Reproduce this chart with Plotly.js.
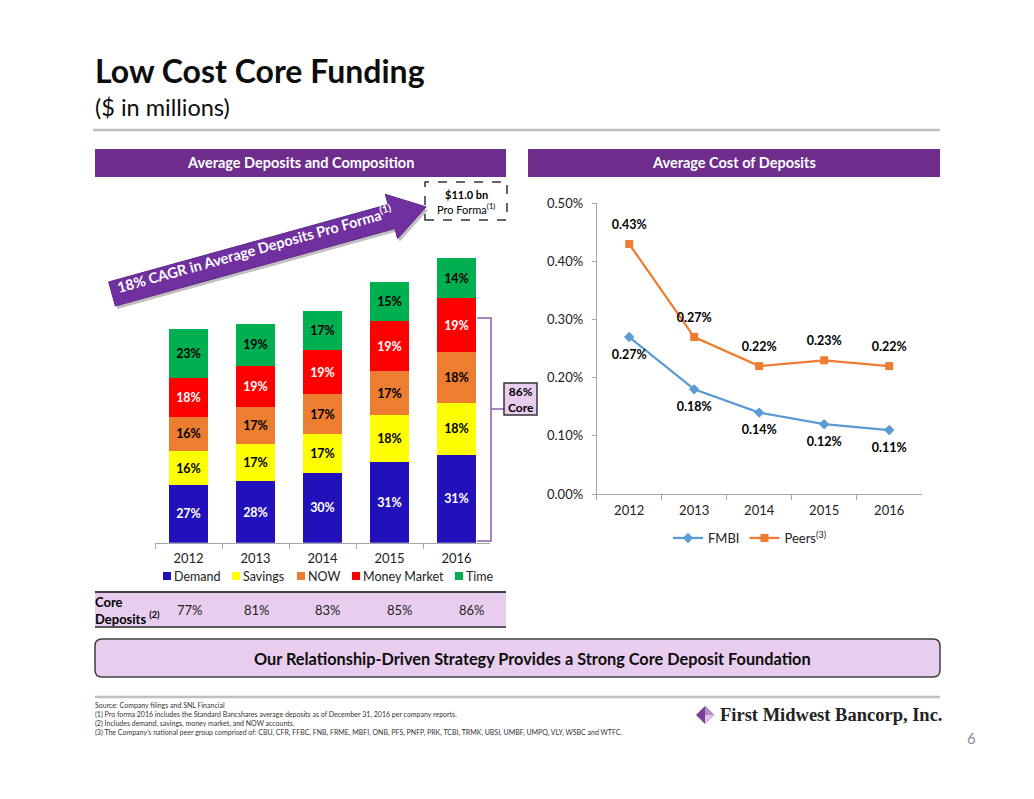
<!DOCTYPE html>
<html>
<head>
<meta charset="utf-8">
<script src="https://cdn.plot.ly/plotly-3.0.1.min.js"></script>
<style>html,body{margin:0;padding:0;background:#fff;}#chart{width:1034px;height:799px;}</style>
</head>
<body>
<div id="chart"></div>
<script>
// ---------------- data ----------------
const years = ['2012', '2013', '2014', '2015', '2016'];
const totals = [6637, 6800, 7208, 8096, 8846];
const totalLabels = ['$6,637', '$6,800', '$7,208', '$8,096', '$8,846'];
const demandPct = [27, 28, 30, 31, 31];
const savingsPct = [16, 17, 17, 18, 18];
const nowPct = [16, 17, 17, 17, 18];
const moneyMarketPct = [18, 19, 19, 19, 19];
const timePct = [23, 19, 17, 15, 14];
const coreDeposits = ['77%', '81%', '83%', '85%', '86%'];
const fmbiCost = [0.27, 0.18, 0.14, 0.12, 0.11];
const peersCost = [0.43, 0.27, 0.22, 0.23, 0.22];
const costTicks = [0, 0.1, 0.2, 0.3, 0.4, 0.5];

// ---------------- helpers (pixel -> paper) ----------------
const W = 1034, H = 799;
const X = p => p / W;
const Y = p => 1 - p / H;
const FONT = 'Lato, "Open Sans", sans-serif';
function rect(x0, y0, x1, y1, o) {
  return Object.assign({type: 'rect', xref: 'paper', yref: 'paper', x0: X(x0), x1: X(x1), y0: Y(y1), y1: Y(y0), layer: 'below'}, o);
}
function poly(pts, o) {
  const d = 'M' + pts.map(p => X(p[0]).toFixed(5) + ',' + Y(p[1]).toFixed(5)).join(' L') + ' Z';
  return Object.assign({type: 'path', xref: 'paper', yref: 'paper', path: d, layer: 'above'}, o);
}
function line(pts, o) {
  const d = 'M' + pts.map(p => X(p[0]).toFixed(5) + ',' + Y(p[1]).toFixed(5)).join(' L');
  return Object.assign({type: 'path', xref: 'paper', yref: 'paper', path: d, layer: 'above'}, o);
}
function ann(x, y, text, o, f) {
  return Object.assign({xref: 'paper', yref: 'paper', x: X(x), y: Y(y), text: text, showarrow: false,
    xanchor: 'center', yanchor: 'middle', font: Object.assign({family: FONT, size: 12, color: '#000'}, f || {})}, o || {});
}
function roundRect(x0, y0, x1, y1, r) {
  const P = (x, y) => X(x).toFixed(5) + ',' + Y(y).toFixed(5);
  return 'M' + P(x0 + r, y0) + ' L' + P(x1 - r, y0) + ' Q' + P(x1, y0) + ' ' + P(x1, y0 + r) +
    ' L' + P(x1, y1 - r) + ' Q' + P(x1, y1) + ' ' + P(x1 - r, y1) +
    ' L' + P(x0 + r, y1) + ' Q' + P(x0, y1) + ' ' + P(x0, y1 - r) +
    ' L' + P(x0, y0 + r) + ' Q' + P(x0, y0) + ' ' + P(x0 + r, y0) + ' Z';
}

// ---------------- bar traces ----------------
const series = [
  {name: 'Demand', pct: demandPct, color: '#2211BB', text: '#FFFFFF'},
  {name: 'Savings', pct: savingsPct, color: '#FFFF00', text: '#000000'},
  {name: 'NOW', pct: nowPct, color: '#ED7D31', text: '#000000'},
  {name: 'Money Market', pct: moneyMarketPct, color: '#FF0000', text: '#FFFFFF'},
  {name: 'Time', pct: timePct, color: '#00B050', text: '#000000'}
];
const traces = series.map(s => ({
  type: 'bar', name: s.name, x: years,
  y: s.pct.map((p, i) => totals[i] * p / 100),
  text: s.pct.map(p => '<b>' + p + '%</b>'),
  textposition: 'inside', insidetextanchor: 'middle', textangle: 0, constraintext: 'none',
  textfont: {family: FONT, size: 12.5, color: s.text},
  marker: {color: s.color, line: {width: 0}},
  xaxis: 'x', yaxis: 'y', showlegend: false, hoverinfo: 'skip'
}));

// ---------------- line traces ----------------
traces.push({
  type: 'scatter', mode: 'lines+markers', name: 'FMBI', x: years, y: fmbiCost,
  line: {color: '#5B9BD5', width: 2.25}, marker: {symbol: 'diamond', size: 8, color: '#5B9BD5'},
  xaxis: 'x2', yaxis: 'y2', legend: 'legend2', cliponaxis: false, hoverinfo: 'skip'
});
traces.push({
  type: 'scatter', mode: 'lines+markers', name: 'Peers<sup>(3)</sup>', x: years, y: peersCost,
  line: {color: '#ED7D31', width: 2.25}, marker: {symbol: 'square', size: 8, color: '#ED7D31'},
  xaxis: 'x2', yaxis: 'y2', legend: 'legend2', cliponaxis: false, hoverinfo: 'skip'
});
// data labels (invisible spacer markers give the label offset)
traces.push({
  type: 'scatter', mode: 'markers+text', x: years, y: fmbiCost, showlegend: false,
  text: fmbiCost.map(v => '<b>' + v.toFixed(2) + '%</b>'), textposition: 'bottom center',
  textfont: {family: FONT, size: 12.5, color: '#000'},
  marker: {size: 18, color: 'rgba(0,0,0,0)'}, xaxis: 'x2', yaxis: 'y2', cliponaxis: false, hoverinfo: 'skip'
});
traces.push({
  type: 'scatter', mode: 'markers+text', x: years, y: peersCost, showlegend: false,
  text: peersCost.map(v => '<b>' + v.toFixed(2) + '%</b>'), textposition: 'top center',
  textfont: {family: FONT, size: 12.5, color: '#000'},
  marker: {size: 18, color: 'rgba(0,0,0,0)'}, xaxis: 'x2', yaxis: 'y2', cliponaxis: false, hoverinfo: 'skip'
});

// ---------------- shapes ----------------
const PURPLE = '#6E2C8C';
const shapes = [];
shapes.push(line([[93, 130], [940, 130]], {line: {color: '#BFBFBF', width: 2.5}}));
shapes.push(rect(95, 149, 506, 177, {fillcolor: PURPLE, line: {width: 0}}));
shapes.push(rect(528, 149, 940, 177, {fillcolor: PURPLE, line: {width: 0}}));
shapes.push(rect(95, 592, 506, 627, {fillcolor: '#E8CDEE', line: {width: 0}}));
shapes.push(line([[95, 592], [506, 592]], {line: {color: '#3F3F3F', width: 2}}));
shapes.push(line([[95, 627], [506, 627]], {line: {color: '#595959', width: 2}}));
shapes.push({type: 'path', xref: 'paper', yref: 'paper', path: roundRect(95, 639, 940, 677, 7),
  fillcolor: '#E8CDEE', line: {color: '#404040', width: 1.5}, layer: 'below'});
shapes.push(line([[95, 697], [940, 697]], {line: {color: '#BFBFBF', width: 2.5}}));
shapes.push(rect(425, 182, 507, 220, {fillcolor: 'rgba(0,0,0,0)', line: {color: '#333', width: 1.5, dash: 'dash'}, layer: 'above'}));
shapes.push(line([[477, 318], [491, 318], [491, 541], [477, 541]], {line: {color: '#8E5BA8', width: 1.5}}));
shapes.push(line([[491, 409], [504, 409]], {line: {color: '#8E5BA8', width: 1.5}}));
shapes.push(rect(504, 383, 537, 415, {fillcolor: '#E8CDEE', line: {color: '#333', width: 1.5}, layer: 'above'}));
// CAGR arrow
const ARROW_ANG = 15.5;
(function () {
  const ang = ARROW_ANG * Math.PI / 180;
  const u = [Math.cos(ang), -Math.sin(ang)], n = [Math.sin(ang), Math.cos(ang)];
  const c0 = [112, 294], L = 326, hl = 36, sw = 12.5, hw = 23;
  const at = (d, k) => [c0[0] + d * u[0] + k * n[0], c0[1] + d * u[1] + k * n[1]];
  const pts = [at(0, -sw), at(L - hl, -sw), at(L - hl, -hw), at(L, 0), at(L - hl, hw), at(L - hl, sw), at(0, sw)];
  shapes.push(poly(pts.map(p => [p[0] + 2, p[1] + 3]), {fillcolor: 'rgba(0,0,0,0.25)', line: {width: 0}}));
  shapes.push(poly(pts, {fillcolor: '#7030A0', line: {color: '#5E2787', width: 1}}));
})();
// logo diamond
shapes.push(poly([[705, 706], [714, 715], [705, 724], [696, 715]], {fillcolor: '#7B3F98', line: {width: 0}}));
shapes.push(poly([[705, 706], [714, 715], [705, 715]], {fillcolor: '#B58AC9', line: {width: 0}}));
shapes.push(poly([[705, 715], [714, 715], [705, 724]], {fillcolor: '#D9C2E4', line: {width: 0}}));

// manual bar legend swatches
const legX = [163, 232, 297, 352, 455];
series.forEach((s, i) => {
  shapes.push(rect(legX[i], 572, legX[i] + 8, 580, {fillcolor: s.color, line: {width: 0}, layer: 'above'}));
});

// ---------------- annotations ----------------
const annotations = [];
annotations.push(ann(93, 70, '<b>Low Cost Core Funding</b>', {xanchor: 'left'}, {size: 32, color: '#0D0D0D'}));
annotations.push(ann(93, 107, '($ in millions)', {xanchor: 'left'}, {size: 23.5, color: '#0D0D0D'}));
annotations.push(ann(300.5, 163, '<b>Average Deposits and Composition</b>', {}, {size: 14.5, color: '#FFFFFF'}));
annotations.push(ann(734, 163, '<b>Average Cost of Deposits</b>', {}, {size: 14.5, color: '#FFFFFF'}));
annotations.push(ann(466, 194, '<b>$11.0 bn</b>', {}, {size: 11}));
annotations.push(ann(466, 209, 'Pro Forma<sup>(1)</sup>', {}, {size: 11}));
annotations.push(ann(520.5, 399, '<b>86%<br>Core</b>', {}, {size: 12}));
annotations.push(ann(254.5, 248.5, '<b>18% CAGR in Average Deposits Pro Forma<sup>(1)</sup></b>', {textangle: -ARROW_ANG}, {size: 14.5, color: '#FFFFFF'}));
// totals above bars
years.forEach((yr, i) => {
  annotations.push({xref: 'x', yref: 'y', x: yr, y: totals[i], yshift: 17, text: '<b>' + totalLabels[i] + '</b>',
    showarrow: false, xanchor: 'center', yanchor: 'middle', font: {family: FONT, size: 12.5, color: '#000'}});
});
// bar legend text
series.forEach((s, i) => {
  annotations.push(ann(legX[i] + 9, 576, s.name, {xanchor: 'left'}, {size: 12.5, color: '#222'}));
});
// core deposits row
annotations.push(ann(93, 610, '<b>Core<br>Deposits <sup>(2)</sup></b>', {xanchor: 'left', align: 'left'}, {size: 13}));
const coreX = [190, 257, 328, 400, 472];
coreDeposits.forEach((c, i) => annotations.push(ann(coreX[i], 610, c, {}, {size: 13, color: '#222'})));
// banner
annotations.push(ann(532, 658, '<b>Our Relationship-Driven Strategy Provides a Strong Core Deposit Foundation</b>', {}, {size: 16.3, color: '#0D0D0D'}));
// footnotes
const notes = [
  'Source: Company filings and SNL Financial',
  '(1) Pro forma 2016 includes the Standard Bancshares average deposits as of December 31, 2016 per company reports.',
  '(2) Includes demand, savings, money market, and NOW accounts.',
  '(3) The Company\u2019s national peer group comprised of: CBU, CFR, FFBC, FNB, FRME, MBFI, ONB, PFS, PNFP, PRK, TCBI, TRMK, UBSI, UMBF, UMPQ, VLY, WSBC and WTFC.'
];
notes.forEach((t, i) => annotations.push(ann(93, 705 + 9 * i, t, {xanchor: 'left'}, {size: 7, color: '#333'})));
annotations.push(ann(718, 715, '<b>First Midwest Bancorp, Inc.</b>', {xanchor: 'left'}, {family: '"Liberation Serif", "DejaVu Serif", serif', size: 18.5, color: '#222'}));
annotations.push(ann(971, 738, '6', {}, {size: 15, color: '#8C8C8C'}));

// ---------------- layout ----------------
const axisCommon = {type: 'category', showline: true, linecolor: '#A6A6A6', linewidth: 1, ticks: 'outside',
  tickson: 'boundaries', ticklen: 5, tickcolor: '#A6A6A6', showgrid: false, zeroline: false, fixedrange: true,
  ticklabelstandoff: 4, tickfont: {family: FONT, size: 13, color: '#222'}};
const layout = {
  width: W, height: H, autosize: false,
  margin: {l: 0, r: 0, t: 0, b: 0, pad: 0},
  paper_bgcolor: '#FFFFFF', plot_bgcolor: 'rgba(0,0,0,0)',
  font: {family: FONT},
  barmode: 'stack', bargap: 0.42,
  hovermode: false,
  showlegend: true,
  xaxis: Object.assign({}, axisCommon, {domain: [X(155), X(490)], anchor: 'y', range: [-0.5, 4.5]}),
  yaxis: {domain: [Y(542.7), Y(221.2)], range: [0, 10000], visible: false, anchor: 'x', fixedrange: true},
  xaxis2: Object.assign({}, axisCommon, {domain: [X(596.7), X(921.7)], anchor: 'y2', range: [-0.5, 4.5]}),
  yaxis2: {domain: [Y(494), Y(203.3)], anchor: 'x2', range: [0, 0.5], tickmode: 'array', tickvals: costTicks,
    ticktext: costTicks.map(v => v.toFixed(2) + '%'),
    showline: true, linecolor: '#A6A6A6', linewidth: 1, ticks: 'outside', ticklen: 4, tickcolor: '#A6A6A6',
    ticklabelstandoff: 6, showgrid: false, zeroline: false, fixedrange: true,
    tickfont: {family: FONT, size: 13, color: '#222'}},
  legend2: {orientation: 'h', x: X(750), y: Y(538), xanchor: 'center', yanchor: 'middle',
    font: {family: FONT, size: 13, color: '#222'}, bgcolor: 'rgba(0,0,0,0)', itemwidth: 30},
  shapes: shapes,
  annotations: annotations
};
Plotly.newPlot('chart', traces, layout, {displayModeBar: false, staticPlot: true});
</script>
</body>
</html>
